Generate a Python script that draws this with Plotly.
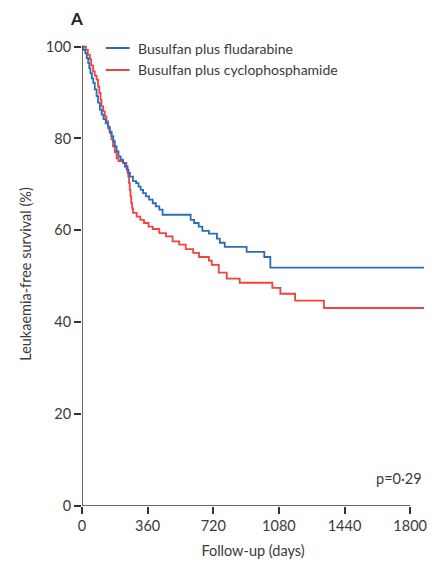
import plotly.graph_objects as go

# Kaplan-Meier step data (days, % leukaemia-free survival)
flu_days = [0, 8, 18, 26, 34, 40, 46, 54, 62, 70, 80, 88, 98, 108, 118, 130, 143, 152, 162, 172,
            180, 190, 200, 212, 225, 235, 245, 255, 263, 280, 297, 310, 322, 335, 350, 368, 388,
            405, 424, 442, 596, 615, 640, 660, 696, 740, 756, 783, 903, 1000, 1033, 1876]
flu_surv = [100, 99.3, 98.6, 97.5, 96.4, 95.3, 94.2, 93.1, 92.1, 90.7, 89.2, 87.8, 86.3, 85.2, 84.2,
            83.3, 82.6, 81.5, 80.5, 79.4, 78.3, 77.2, 76.1, 75.4, 74.7, 73.9, 73.2, 72.5, 71.7, 70.7,
            70.3, 69.5, 68.8, 68.1, 67.4, 66.7, 65.9, 65.2, 64.5, 63.4, 62.3, 61.6, 60.8, 59.9, 59.3,
            58.2, 57.3, 56.4, 55.3, 54.2, 51.9, 51.9]

cy_days = [0, 22, 32, 43, 50, 61, 70, 80, 88, 95, 102, 107, 116, 125, 134, 143, 152, 162, 170, 180,
           190, 200, 225, 243, 250, 254, 258, 262, 266, 270, 275, 280, 300, 320, 340, 365, 388, 424,
           461, 497, 533, 569, 610, 642, 696, 712, 750, 794, 865, 1044, 1088, 1169, 1327, 1876]
cy_surv = [100, 99.3, 98.2, 97.2, 95.9, 94.6, 93.7, 92.8, 91.3, 89.9, 88.4, 87.0, 85.9, 84.8, 83.7,
           82.2, 81.2, 79.8, 78.3, 77.0, 75.7, 75.1, 74.7, 73.9, 72.5, 71.7, 70.3, 68.8, 67.4, 66.0,
           64.8, 63.8, 63.0, 62.3, 61.6, 60.8, 60.3, 59.4, 58.7, 57.6, 56.9, 55.9, 55.1, 54.2, 53.4,
           52.5, 50.8, 49.5, 48.6, 47.5, 46.2, 44.7, 43.1, 43.1]

series_names = ["Busulfan plus fludarabine", "Busulfan plus cyclophosphamide"]
x_ticks = [0, 360, 720, 1080, 1440, 1800]
y_ticks = [0, 20, 40, 60, 80, 100]

BLUE = "#2b6cb8"
RED = "#f2423e"
TXT = "#3a3a3a"
FONT = "Lato"

fig = go.Figure()
fig.add_trace(go.Scatter(x=cy_days, y=cy_surv, mode="lines", line=dict(color=RED, width=1.8, shape="hv"),
                         name=series_names[1], showlegend=False))
fig.add_trace(go.Scatter(x=flu_days, y=flu_surv, mode="lines", line=dict(color=BLUE, width=1.8, shape="hv"),
                         name=series_names[0], showlegend=False))

# axis lines (x axis line only spans to 1800)
fig.add_shape(type="line", xref="x", yref="y", x0=0, x1=1800, y0=0, y1=0, line=dict(color="#333", width=1.5))
fig.add_shape(type="line", xref="x", yref="y", x0=0, x1=0, y0=0, y1=100, line=dict(color="#333", width=1.5))

# manual legend
H = 464.0
def py(p):
    return (506 - p) / H
def px(p):
    return (p - 82) / 345.0

for name, col, yy in [(series_names[0], BLUE, 48), (series_names[1], RED, 70)]:
    fig.add_shape(type="line", xref="paper", yref="paper", x0=px(106), x1=px(130), y0=py(yy), y1=py(yy),
                  line=dict(color=col, width=2))
    fig.add_annotation(xref="paper", yref="paper", x=px(136), y=py(yy), text=name, showarrow=False,
                       xanchor="left", yanchor="middle", font=dict(family=FONT, size=14, color=TXT))

fig.add_annotation(xref="paper", yref="paper", x=px(427), y=py(478), text="p=0·29", showarrow=False,
                   xanchor="right", yanchor="middle", font=dict(family=FONT, size=14.5, color=TXT))
fig.add_annotation(xref="paper", yref="paper", x=px(76), y=py(18), text="<b>A</b>", showarrow=False,
                   xanchor="center", yanchor="middle", font=dict(family=FONT, size=17, color="#222"))

fig.update_layout(
    width=432, height=566,
    margin=dict(l=82, r=5, t=42, b=60),
    paper_bgcolor="white", plot_bgcolor="white",
    font=dict(family=FONT, size=14, color=TXT),
    xaxis=dict(range=[0, 1876], tickvals=x_ticks, ticktext=[str(v) for v in x_ticks],
               showgrid=False, zeroline=False, showline=False, ticks="outside", ticklen=7,
               tickwidth=1.5, tickcolor="#333", tickfont=dict(size=14.5, color=TXT),
               title=dict(text="Follow-up (days)", font=dict(size=14.5, color=TXT), standoff=12)),
    yaxis=dict(range=[0, 101], tickvals=y_ticks, ticktext=[str(v) for v in y_ticks],
               showgrid=False, zeroline=False, showline=False, ticks="outside", ticklen=7,
               tickwidth=1.5, tickcolor="#333", tickfont=dict(size=14.5, color=TXT),
               title=dict(text="Leukaemia-free survival (%)", font=dict(size=14.5, color=TXT), standoff=10)),
)

fig.write_html("out.html")
